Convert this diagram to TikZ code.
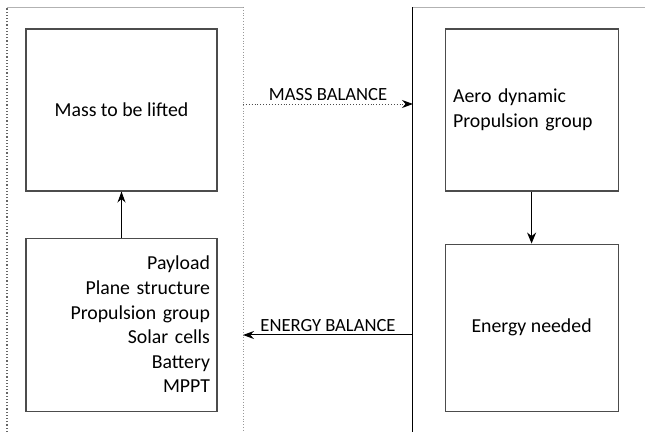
\documentclass[tikz,border=0pt]{standalone}
\usepackage{fontspec}
\setmainfont{Carlito}
\usetikzlibrary{shapes,arrows,arrows.meta,positioning}
\tikzstyle{block} = [draw=black!70, line width=0.55pt, minimum width=95.5pt, minimum height=81pt, font=\fontsize{9.9}{12.3}\selectfont]
\tikzstyle{arrow} = [line width=0.75pt,-{Stealth[length=5.5pt,width=4.5pt]}]

\begin{document}
\begin{tikzpicture}[x=0.5pt, y=-0.5pt, >={Stealth[black,length=5.5pt,width=4pt]}]
            \useasboundingbox (0,0) rectangle (645,432);
            % 定义方框节点
            \node[block] (mass) at (121.5,110) {Mass to be lifted};
            \node[block, below=23pt of mass, minimum height=86.5pt, text width=88.5pt, inner xsep=3.5pt, align=right] (parts) {Payload\\Plane structure\\Propulsion group\\Solar cells\\Battery\\MPPT};
            \node[block, right=113.5pt of mass, minimum width=86.5pt, text width=78.5pt, inner xsep=4pt, align=left] (aero) {Aero dynamic\\Propulsion group};
            \node[block, below=26pt of aero, minimum width=86.5pt, minimum height=83.5pt] (energy) {Energy needed};

            % 两个区域的边线
            \draw[black!60, densely dotted, line width=0.6pt] (7,432) -- (7,7);
            \draw[black!30] (7,7) -- (243,7);
            \draw[black!40, densely dotted] (243,7) -- (243,432);
            \draw[black, line width=0.5pt] (413,432) -- (413,7);
            \draw[black!30] (413,7) -- (645,7);

            % 区域之间的平衡关系
            \coordinate (mL) at (243,104);
            \coordinate (mR) at (413,104);
            \coordinate (eR) at (413,335);
            \coordinate (eL) at (243,335);
            \draw[->, black!70, densely dotted, line width=0.45pt] (mL) -- node[above, black, inner sep=1.5pt, font=\fontsize{9.3}{11}\selectfont]{MASS BALANCE} (mR);
            \draw[->, line width=0.5pt] (eR) -- node[above, inner sep=1.5pt, font=\fontsize{9.3}{11}\selectfont]{ENERGY BALANCE} (eL);

            % 方框之间的箭头
            \draw[->, line width=0.5pt] (parts) -- (mass);
            \draw[arrow] (aero) -- (energy);
        \end{tikzpicture}
\end{document}
